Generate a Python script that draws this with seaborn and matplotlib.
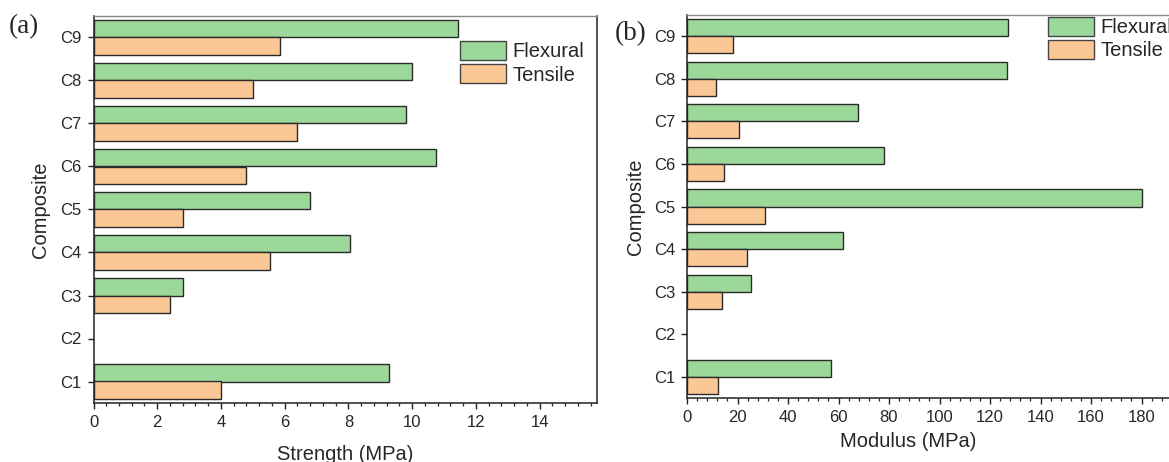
import matplotlib
matplotlib.use("Agg")
import matplotlib.pyplot as plt
import seaborn as sns
import pandas as pd
from matplotlib.ticker import MultipleLocator, FixedLocator
from matplotlib.patches import Patch

# ---- data ----
composites = ["C9", "C8", "C7", "C6", "C5", "C4", "C3", "C2", "C1"]
series = ["Flexural", "Tensile"]
# C2 has no measured values (empty slot)
strength_flexural = [11.45, 10.0, 9.8, 10.75, 6.8, 8.05, 2.8, None, 9.27]
strength_tensile = [5.85, 5.0, 6.38, 4.77, 2.8, 5.55, 2.4, None, 4.0]
modulus_flexural = [127.0, 126.8, 67.7, 78.0, 180.0, 61.8, 25.2, None, 57.0]
modulus_tensile = [18.2, 11.5, 20.6, 14.8, 30.7, 23.9, 13.9, None, 12.4]
strength_ticks = [0, 2, 4, 6, 8, 10, 12, 14]
modulus_ticks = [0, 20, 40, 60, 80, 100, 120, 140, 160, 180]

green = "#9dd89b"
orange = "#fbc795"
edge = "#2b2b2b"

sns.set_style("ticks")
plt.rcParams["font.family"] = ["Liberation Sans", "DejaVu Sans"]


def long_df(flex, tens):
    rows = []
    for c, f, t in zip(composites, flex, tens):
        if f is not None:
            rows.append({"Composite": c, "Type": series[0], "Value": f})
        if t is not None:
            rows.append({"Composite": c, "Type": series[1], "Value": t})
    return pd.DataFrame(rows)


W, H = 1169, 462
fig = plt.figure(figsize=(W / 100, H / 100), dpi=100)

axA = fig.add_axes([93.5 / W, (H - 403) / H, (597 - 93.5) / W, 387 / H])
axB = fig.add_axes([687 / W, (H - 398) / H, 505 / W, 383 / H])


def draw(ax, df, xlabel, xlim, ticks, minor, leg_anchor, label_x, label_y):
    sns.barplot(data=df, y="Composite", x="Value", hue="Type", orient="h",
                order=composites, hue_order=series, palette=[green, orange],
                edgecolor=edge, linewidth=1.0, width=0.8, errorbar=None,
                saturation=1, ax=ax, legend=False)
    ax.set_xlim(*xlim)
    ax.set_ylim(len(composites) - 0.5, -0.5)
    ax.xaxis.set_major_locator(FixedLocator(ticks))
    ax.xaxis.set_minor_locator(MultipleLocator(minor))
    ax.tick_params(axis="both", which="major", direction="out", length=4.5,
                   width=1.0, labelsize=12, color="#222", pad=4)
    ax.tick_params(axis="x", which="minor", direction="out", length=2.3,
                   width=0.9, color="#222")
    ax.tick_params(axis="y", which="minor", left=False)
    for s in ["left", "bottom", "right"]:
        ax.spines[s].set_color("#222")
        ax.spines[s].set_linewidth(1.1)
    ax.spines["top"].set_color("#8a8a8a")
    ax.spines["top"].set_linewidth(1.0)
    ax.set_xlabel(xlabel, fontsize=14.5)
    ax.set_ylabel("Composite", fontsize=14.5)
    ax.xaxis.set_label_coords(label_x, label_y)
    handles = [Patch(facecolor=green, edgecolor="#444", linewidth=1.0),
               Patch(facecolor=orange, edgecolor="#444", linewidth=1.0)]
    ax.legend(handles, series, loc="upper left", bbox_to_anchor=leg_anchor,
              frameon=False, fontsize=14.5, handlelength=2.3,
              handleheight=1.05, labelspacing=0.15, handletextpad=0.3,
              borderpad=0, borderaxespad=0)


draw(axA, long_df(strength_flexural, strength_tensile), "Strength (MPa)",
     (0, 15.8), strength_ticks, 0.4, (0.728, 0.935), 0.5, -0.108)
axA.yaxis.set_label_coords(-0.086, 0.5)
draw(axB, long_df(modulus_flexural, modulus_tensile), "Modulus (MPa)",
     (0, 200), modulus_ticks, 4, (0.715, 0.995), 0.438, -0.09)
axB.yaxis.set_label_coords(-0.083, 0.5)

fig.text(24 / W, 1 - 27 / H, "(a)", family="Liberation Serif", fontsize=19.5,
         ha="center", va="center")
fig.text(631 / W, 1 - 34 / H, "(b)", family="Liberation Serif", fontsize=19.5,
         ha="center", va="center")

fig.savefig("out.png", dpi=100)
